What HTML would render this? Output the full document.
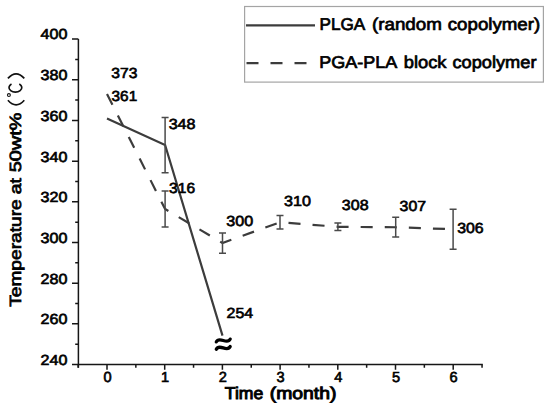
<!DOCTYPE html>
<html><head><meta charset="utf-8"><style>
html,body{margin:0;padding:0;background:#fff;width:550px;height:407px;overflow:hidden}
svg{display:block}
text{font-family:"Liberation Sans",sans-serif;fill:#000;stroke:#000;text-rendering:geometricPrecision}
.n{font-size:14.6px;stroke-width:0.65px}
.lg{font-size:17px;stroke-width:0.7px}
.xt{font-size:17px;stroke-width:0.95px}
.yt{font-size:16.3px;stroke-width:0.7px}
</style></head><body>
<svg width="550" height="407" viewBox="0 0 550 407"><path d="M78.4 39.10V367.66M77.65 364.56H482.80" stroke="#161616" stroke-width="1.5" fill="none"/><path d="M72.00 364.56H78.4M72.00 323.87H78.4M72.00 283.19H78.4M72.00 242.51H78.4M72.00 201.83H78.4M72.00 161.15H78.4M72.00 120.46H78.4M72.00 79.78H78.4M72.00 39.10H78.4M75.20 344.22H78.4M75.20 303.53H78.4M75.20 262.85H78.4M75.20 222.17H78.4M75.20 181.49H78.4M75.20 140.81H78.4M75.20 100.12H78.4M75.20 59.44H78.4M107.00 364.56V369.86M164.70 364.56V369.86M222.40 364.56V369.86M280.10 364.56V369.86M337.80 364.56V369.86M395.50 364.56V369.86M453.20 364.56V369.86M78.15 364.56V367.66M135.85 364.56V367.66M193.55 364.56V367.66M251.25 364.56V367.66M308.95 364.56V367.66M366.65 364.56V367.66M424.35 364.56V367.66M482.05 364.56V367.66" stroke="#161616" stroke-width="1.5" fill="none"/><text class="n" x="40.5" y="364.91" textLength="26.85" lengthAdjust="spacingAndGlyphs">240</text><text class="n" x="40.5" y="324.22" textLength="26.85" lengthAdjust="spacingAndGlyphs">260</text><text class="n" x="40.5" y="283.54" textLength="26.85" lengthAdjust="spacingAndGlyphs">280</text><text class="n" x="40.5" y="242.86" textLength="26.85" lengthAdjust="spacingAndGlyphs">300</text><text class="n" x="40.5" y="202.18" textLength="26.85" lengthAdjust="spacingAndGlyphs">320</text><text class="n" x="40.5" y="161.50" textLength="26.85" lengthAdjust="spacingAndGlyphs">340</text><text class="n" x="40.5" y="120.81" textLength="26.85" lengthAdjust="spacingAndGlyphs">360</text><text class="n" x="40.5" y="80.13" textLength="26.85" lengthAdjust="spacingAndGlyphs">380</text><text class="n" x="40.5" y="39.45" textLength="26.85" lengthAdjust="spacingAndGlyphs">400</text><text class="n" x="107.45" y="381.95" text-anchor="middle">0</text><text class="n" x="165.15" y="381.95" text-anchor="middle">1</text><text class="n" x="222.85" y="381.95" text-anchor="middle">2</text><text class="n" x="280.55" y="381.95" text-anchor="middle">3</text><text class="n" x="338.25" y="381.95" text-anchor="middle">4</text><text class="n" x="395.95" y="381.95" text-anchor="middle">5</text><text class="n" x="453.65" y="381.95" text-anchor="middle">6</text><polyline points="107.00,118.40 165.10,145.00 222.50,335.60" stroke="#3c3c3c" stroke-width="2.2" fill="none"/><polyline points="107.00,94.10 165.10,209.00 222.50,243.00 280.00,222.30 337.90,226.80 395.70,227.25 453.10,229.25" stroke="#3c3c3c" stroke-width="2.2" fill="none" stroke-dasharray="12.05 12.05"/><path d="M165.10 117.40V172.80M161.60 117.40H168.60M161.60 172.80H168.60M165.10 190.90V227.10M161.60 190.90H168.60M161.60 227.10H168.60M222.50 233.00V253.20M219.00 233.00H226.00M219.00 253.20H226.00M280.00 215.40V229.10M276.50 215.40H283.50M276.50 229.10H283.50M337.90 223.10V230.40M334.40 223.10H341.40M334.40 230.40H341.40M395.70 217.30V237.05M392.20 217.30H399.20M392.20 237.05H399.20M453.10 209.20V249.30M449.60 209.20H456.60M449.60 249.30H456.60" stroke="#4a4a4a" stroke-width="1.5" fill="none"/><text class="n" x="111.28" y="78.15" textLength="26.07" lengthAdjust="spacingAndGlyphs">373</text><text class="n" x="111.58" y="100.93" textLength="25.6" lengthAdjust="spacingAndGlyphs">361</text><text class="n" x="168.68" y="128.55" textLength="26.86" lengthAdjust="spacingAndGlyphs">348</text><text class="n" x="169.08" y="192.73" textLength="25.97" lengthAdjust="spacingAndGlyphs">316</text><text class="n" x="226.56" y="318.45" textLength="26.61" lengthAdjust="spacingAndGlyphs">254</text><text class="n" x="226.37" y="226.46" textLength="26.91" lengthAdjust="spacingAndGlyphs">300</text><text class="n" x="284.07" y="205.61" textLength="26.91" lengthAdjust="spacingAndGlyphs">310</text><text class="n" x="341.88" y="210.05" textLength="26.66" lengthAdjust="spacingAndGlyphs">308</text><text class="n" x="399.58" y="210.55" textLength="26.5" lengthAdjust="spacingAndGlyphs">307</text><text class="n" x="457.18" y="233.34" textLength="26.47" lengthAdjust="spacingAndGlyphs">306</text><path d="M216.3 341.9C219.3 335.5 227.2 345.5 230.2 339.1M216.3 349.3C219.3 342.9 227.2 352.9 230.2 346.5" stroke="#000" stroke-width="3.3" fill="none" stroke-linecap="round"/><rect x="244.6" y="6.5" width="298.8" height="75.6" fill="none" stroke="#a4a4a4" stroke-width="1.2"/><path d="M246 25.4H315" stroke="#3c3c3c" stroke-width="2.2"/><path d="M246.5 63.1H307" stroke="#3c3c3c" stroke-width="2.2" stroke-dasharray="12 12"/><text class="lg" x="319.60" y="30.45" textLength="45.71" lengthAdjust="spacingAndGlyphs">PLGA</text><text class="lg" x="371.96" y="30.45" textLength="69.96" lengthAdjust="spacingAndGlyphs">(random</text><text class="lg" x="447.78" y="30.45" textLength="92.47" lengthAdjust="spacingAndGlyphs">copolymer)</text><text class="lg" x="319.28" y="67.56" textLength="77.97" lengthAdjust="spacingAndGlyphs">PGA-PLA</text><text class="lg" x="403.72" y="67.56" textLength="42.79" lengthAdjust="spacingAndGlyphs">block</text><text class="lg" x="452.48" y="67.56" textLength="84.03" lengthAdjust="spacingAndGlyphs">copolymer</text><text class="xt" x="224.88" y="399.28" textLength="38.44" lengthAdjust="spacingAndGlyphs">Time</text><text class="xt" x="269.74" y="399.28" textLength="66.69" lengthAdjust="spacingAndGlyphs">(month)</text><text class="yt" transform="translate(21.25 420) rotate(-90)" x="113.20" y="0.00" textLength="107.48" lengthAdjust="spacingAndGlyphs">Temperature</text><text class="yt" transform="translate(21.25 420) rotate(-90)" x="225.77" y="0.00" textLength="16.14" lengthAdjust="spacingAndGlyphs">at</text><text class="yt" transform="translate(21.25 420) rotate(-90)" x="247.75" y="0.00" textLength="59.6" lengthAdjust="spacingAndGlyphs">50wt%</text><path d="M7.9 100.2Q16.1 109.4 24.3 100.2M7.9 78.4Q16.1 69.2 24.3 78.4M11.5 83.9A6.4 4.6 0 1 0 19.3 83.9" stroke="#111" stroke-width="1.7" fill="none"/><circle cx="8.9" cy="95.1" r="1.45" stroke="#111" stroke-width="1.1" fill="none"/></svg>
</body></html>
